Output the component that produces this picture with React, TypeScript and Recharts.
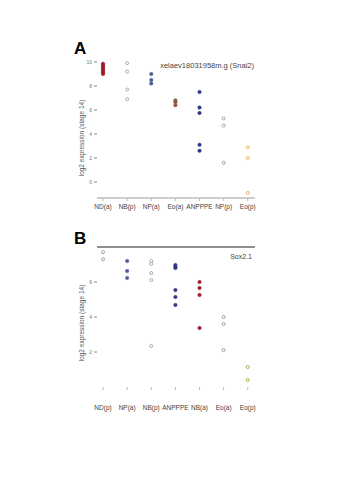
import React from 'react';
import { ScatterChart, Scatter, XAxis, YAxis, ReferenceLine } from 'recharts';

const categoriesA = ['ND(a)', 'NB(p)', 'NP(a)', 'Eo(a)', 'ANPPPE', 'NP(p)', 'Eo(p)'];
const valuesA = [
  [9.85, 9.7, 9.55, 9.4, 9.25, 9.1, 9.0],
  [9.9, 9.2, 7.7, 6.9],
  [9.0, 8.5, 8.2],
  [6.8, 6.65, 6.4],
  [7.5, 6.2, 5.75, 3.1, 2.6],
  [5.3, 4.7, 1.6],
  [2.9, 2.0, -0.9],
];
const colorsA = ['#9b1c2c', '#9a9a9a', '#4a5c9e', '#8a5a3c', '#2d3782', '#8e8e8e', '#d9a548'];
const hollowA = [false, true, false, false, false, true, true];
const ticksA = [0, 2, 4, 6, 8, 10];

const categoriesB = ['ND(p)', 'NP(a)', 'NB(p)', 'ANPPPE', 'NB(a)', 'Eo(a)', 'Eo(p)'];
const valuesB = [
  [7.7, 7.3],
  [7.2, 6.63, 6.23],
  [7.2, 7.03, 6.51, 6.11, 2.34],
  [6.97, 6.86, 6.8, 5.54, 5.14, 4.69],
  [6.0, 5.66, 5.26, 3.37],
  [4.0, 3.6, 2.11],
  [1.14, 0.4],
];
const colorsB = ['#8e8e8e', '#4a5c9e', '#9a9a9a', '#2d3782', '#9b1c2c', '#8e8e8e', '#a89a2a'];
const hollowB = [true, false, true, false, false, true, true];
const ticksB = [2, 4, 6];

const font = '"Liberation Sans", Arial, sans-serif';

function makeShape(color: string, hollow: boolean) {
  return (props: any) => (
    <circle
      cx={props.cx}
      cy={props.cy}
      r={hollow ? 1.5 : 1.8}
      fill={hollow ? '#ffffff' : color}
      stroke={color}
      strokeWidth={hollow ? 0.8 : 0.4}
    />
  );
}

function makeXTick(cats: string[], dy: number) {
  return (props: any) => {
    const { x, y, payload } = props;
    return (
      <text x={x} y={y + dy} textAnchor="middle" fontSize={6.5} fill="#444" fontFamily={font}>
        {cats[payload.value]}
      </text>
    );
  };
}

function YTick(props: any) {
  const { x, y, payload } = props;
  return (
    <text x={x} y={y + 2} textAnchor="end" fontSize={5} fill="#777" fontFamily={font}>
      {payload.value}
    </text>
  );
}

function Panel(props: {
  cats: string[];
  values: number[][];
  colors: string[];
  hollow: boolean[];
  ticks: number[];
  domain: [number, number];
  height: number;
  marginTop: number;
  xAxisHeight: number;
  showAxisLine: boolean;
  topLine?: number;
  labelDy: number;
}) {
  const { cats, values, colors, hollow, ticks, domain, height, marginTop, xAxisHeight, showAxisLine, topLine, labelDy } = props;
  return (
    <ScatterChart width={354} height={height} margin={{ top: marginTop, right: 99, bottom: 0, left: 68 }}>
      <XAxis
        type="number"
        dataKey="x"
        domain={[-0.25, 6.3]}
        ticks={[0, 1, 2, 3, 4, 5, 6]}
        interval={0}
        height={xAxisHeight}
        axisLine={showAxisLine ? { stroke: '#9a9a9a', strokeWidth: 1 } : false}
        tickLine={{ stroke: '#bbbbbb' }}
        tickSize={3}
        tickMargin={0}
        tick={makeXTick(cats, labelDy)}
        allowDataOverflow
      />
      <YAxis
        type="number"
        dataKey="y"
        domain={domain}
        ticks={ticks}
        width={29}
        axisLine={false}
        tickLine={{ stroke: '#888' }}
        tickSize={3}
        tickMargin={2}
        tick={<YTick />}
        allowDataOverflow
      />
      {topLine !== undefined && (
        <ReferenceLine y={topLine} stroke="#222" strokeWidth={1.2} ifOverflow="visible" />
      )}
      {cats.map((c, i) => (
        <Scatter
          key={c}
          name={c}
          data={values[i].map((v) => ({ x: i, y: v }))}
          fill={colors[i]}
          shape={makeShape(colors[i], hollow[i])}
          isAnimationActive={false}
        />
      ))}
    </ScatterChart>
  );
}

const abs = (left: number, top: number, extra: React.CSSProperties = {}): React.CSSProperties => ({
  position: 'absolute',
  left,
  top,
  fontFamily: font,
  whiteSpace: 'nowrap',
  lineHeight: 1,
  ...extra,
});

export default function App() {
  return (
    <div style={{ position: 'absolute', left: 0, top: 0, width: 354, height: 500, background: '#fff' }}>
      <div style={{ position: 'absolute', left: 0, top: 0 }}>
        <Panel
          cats={categoriesA}
          values={valuesA}
          colors={colorsA}
          hollow={hollowA}
          ticks={ticksA}
          domain={[-1.33, 10.33]}
          height={220}
          marginTop={58}
          xAxisHeight={22}
          showAxisLine={true}
          labelDy={8}
        />
      </div>
      <div style={{ position: 'absolute', left: 0, top: 220 }}>
        <Panel
          cats={categoriesB}
          values={valuesB}
          colors={colorsB}
          hollow={hollowB}
          ticks={ticksB}
          domain={[0, 8]}
          height={200}
          marginTop={27}
          xAxisHeight={33}
          showAxisLine={false}
          topLine={8}
          labelDy={20}
        />
      </div>
      <div style={abs(74, 40, { fontSize: 17, fontWeight: 'bold', color: '#000' })}>A</div>
      <div style={abs(74, 230, { fontSize: 17, fontWeight: 'bold', color: '#000' })}>B</div>
      <div style={abs(150, 62, { fontSize: 7.5, color: '#444', width: 104, textAlign: 'right' })}>
        xelaev18031958m.g (Snai2)
      </div>
      <div style={abs(200, 253, { fontSize: 7, color: '#444', width: 52, textAlign: 'right' })}>Sox2.1</div>
      <div
        style={abs(82, 138, {
          fontSize: 6.5,
          color: '#555',
          transform: 'translate(-50%, -50%) rotate(-90deg)',
        })}
      >
        log2 expression (stage 14)
      </div>
      <div
        style={abs(82, 323, {
          fontSize: 6.5,
          color: '#555',
          transform: 'translate(-50%, -50%) rotate(-90deg)',
        })}
      >
        log2 expression (stage 14)
      </div>
    </div>
  );
}
